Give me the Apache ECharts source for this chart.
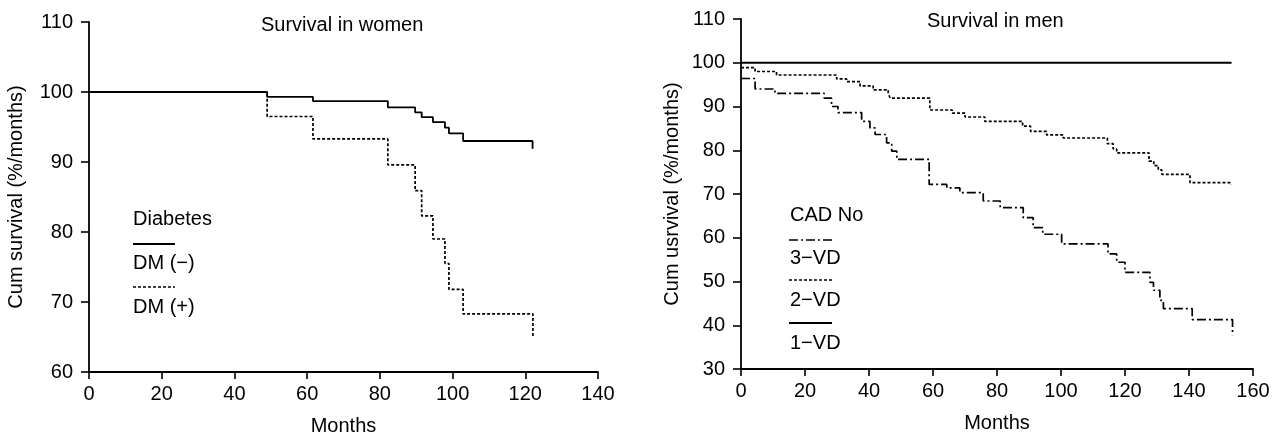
<!DOCTYPE html>
<html>
<head>
<meta charset="utf-8">
<script src="https://cdn.jsdelivr.net/npm/echarts@6/dist/echarts.min.js"></script>
<style>
  html, body { margin: 0; padding: 0; background: #ffffff; }
  #chart { width: 1282px; height: 441px; }
</style>
</head>
<body>
<div id="chart"></div>
<script>
// women, diabetes groups (months, cum survival %)
const dmNegMonths = [0, 49, 61.6, 82.2, 89.7, 91.5, 94.6, 97.9, 99, 102.9, 122];
const dmNegSurv   = [100, 99.3, 98.7, 97.8, 97.1, 96.4, 95.7, 94.9, 94.1, 93.0, 91.9];
const dmPosMonths = [0, 49, 61.6, 82.2, 89.7, 91.5, 94.6, 97.9, 99, 102.9, 122.1];
const dmPosSurv   = [100, 96.5, 93.3, 89.6, 85.9, 82.3, 79.0, 75.5, 71.8, 68.3, 65.0];

// men, CAD vessel number
const vd1Months = [0, 153.3];
const vd1Surv   = [100, 100];
const vd2Months = [0, 4.4, 11.1, 29.9, 33, 37.2, 41.3, 46, 46.6, 59, 66, 70, 76.2, 88, 90.5, 95.5, 100.7, 114.5, 116.3, 117.4, 127.5, 129, 130.4, 131.5, 140.3, 153.1];
const vd2Surv   = [98.9, 98.0, 97.2, 96.3, 95.7, 94.7, 93.8, 93.0, 91.9, 89.2, 88.5, 87.6, 86.6, 85.5, 84.3, 83.5, 82.8, 81.5, 80.3, 79.4, 77.5, 76.5, 75.5, 74.5, 72.6, 72.2];
const vd3Months = [0, 4.4, 10.6, 26, 28.3, 30.3, 37.7, 40.3, 41.9, 45.5, 47.1, 48.7, 58.8, 64.3, 68.4, 75.7, 81, 88.2, 91.3, 94.3, 100.2, 114.7, 117.4, 120, 127.8, 128.9, 130.9, 132, 141, 153.6];
const vd3Surv   = [96.4, 94.0, 93.0, 91.9, 90.0, 88.6, 86.6, 85.1, 83.6, 81.7, 79.8, 77.9, 72.2, 71.4, 70.3, 68.4, 66.9, 64.6, 62.3, 60.8, 58.6, 56.3, 54.4, 52.1, 49.8, 48.0, 45.7, 43.8, 41.3, 37.7];

const FONT = "'Liberation Sans', Arial, Helvetica, sans-serif";
const FS = 20;

function zip(xs, ys) {
  return xs.map((x, i) => [x, ys[i]]);
}

const solid = { color: '#000', width: 1.8, type: 'solid' };
const dotted = { color: '#000', width: 1.7, type: [3, 2] };
const dashDot = { color: '#000', width: 1.7, type: [9, 3, 2, 3] };

function xAx(gridIndex, max) {
  return {
    type: 'value', gridIndex: gridIndex, min: 0, max: max, interval: 20,
    name: 'Months', nameLocation: 'middle', nameGap: 44,
    nameTextStyle: { color: '#000', fontFamily: FONT, fontSize: FS },
    axisLine: { show: true, onZero: false, lineStyle: { color: '#000', width: 1.8 } },
    axisTick: { show: true, length: 7, lineStyle: { color: '#000', width: 1.6 } },
    axisLabel: { color: '#000', fontFamily: FONT, fontSize: FS, margin: 12 },
    splitLine: { show: false }
  };
}

function yAx(gridIndex, min, name, gap) {
  return {
    type: 'value', gridIndex: gridIndex, min: min, max: 110, interval: 10,
    name: name, nameLocation: 'middle', nameGap: gap,
    nameTextStyle: { color: '#000', fontFamily: FONT, fontSize: FS },
    axisLine: { show: true, lineStyle: { color: '#000', width: 1.8 } },
    axisTick: { show: true, length: 8, lineStyle: { color: '#000', width: 1.6 } },
    axisLabel: { color: '#000', fontFamily: FONT, fontSize: FS, margin: 16 },
    splitLine: { show: false }
  };
}

function kmSeries(name, xi, data, style) {
  return {
    name: name, type: 'line', step: 'end', xAxisIndex: xi, yAxisIndex: xi,
    data: data, showSymbol: false, symbol: 'none', lineStyle: style,
    itemStyle: { color: '#000' }, animation: false, silent: true
  };
}

function legendText(text, x, y) {
  return { type: 'text', style: { text: text, x: x, y: y, fill: '#000', font: FS + 'px ' + FONT, textVerticalAlign: 'middle', verticalAlign: 'middle' } };
}
function legendLine(x1, x2, y, style) {
  return { type: 'line', shape: { x1: x1, y1: y, x2: x2, y2: y }, style: { stroke: '#000', lineWidth: style.width, lineDash: style.type === 'solid' ? null : style.type } };
}

const chart = echarts.init(document.getElementById('chart'));
chart.setOption({
  backgroundColor: '#ffffff',
  animation: false,
  title: [
    { text: 'Survival in women', left: 256, top: 10, textStyle: { color: '#000', fontFamily: FONT, fontSize: FS, fontWeight: 'normal' } },
    { text: 'Survival in men', left: 922, top: 6, textStyle: { color: '#000', fontFamily: FONT, fontSize: FS, fontWeight: 'normal' } }
  ],
  grid: [
    { left: 89, top: 22, width: 509, height: 351 },
    { left: 741, top: 19, width: 512, height: 350 }
  ],
  xAxis: [xAx(0, 140), xAx(1, 160)],
  yAxis: [
    yAx(0, 60, 'Cum survival (%/months)', 63),
    yAx(1, 30, 'Cum usrvival (%/months)', 59)
  ],
  series: [
    kmSeries('DM (\u2212)', 0, zip(dmNegMonths, dmNegSurv), solid),
    kmSeries('DM (+)', 0, zip(dmPosMonths, dmPosSurv), dotted),
    kmSeries('1\u2212VD', 1, zip(vd1Months, vd1Surv), solid),
    kmSeries('2\u2212VD', 1, zip(vd2Months, vd2Surv), dotted),
    kmSeries('3\u2212VD', 1, zip(vd3Months, vd3Surv), dashDot)
  ],
  graphic: [
    legendText('Diabetes', 133, 219),
    legendLine(133, 175, 244, solid),
    legendText('DM (\u2212)', 133, 263),
    legendLine(133, 175, 287, dotted),
    legendText('DM (+)', 133, 307),

    legendText('CAD No', 790, 215),
    legendLine(789, 832, 240, dashDot),
    legendText('3\u2212VD', 790, 258),
    legendLine(789, 832, 280, dotted),
    legendText('2\u2212VD', 790, 300),
    legendLine(789, 832, 323, solid),
    legendText('1\u2212VD', 790, 343)
  ]
});
</script>
</body>
</html>
